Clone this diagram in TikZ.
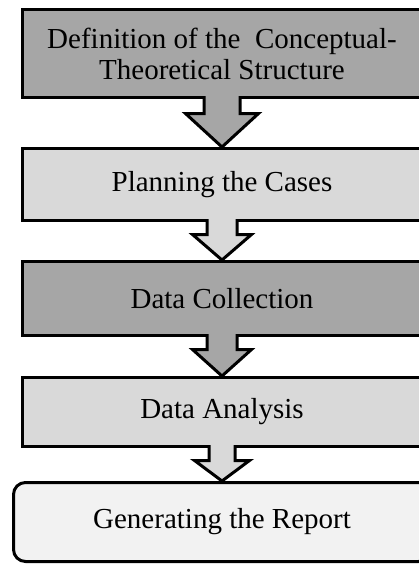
\documentclass[tikz,border=0pt]{standalone}
\usepackage{fontspec}
\setmainfont{Liberation Serif}
\usetikzlibrary{calc}

\definecolor{stagedark}{HTML}{A6A6A6}
\definecolor{stagelight}{HTML}{D9D9D9}
\definecolor{stagepale}{HTML}{F2F2F2}

% block arrow between two stages: from, to, fill, stem half width, head half width, head offset
\newcommand{\stagearrow}[6]{%
  \draw[stage arrow, fill=#3]
    ($(#1.south)+(-#4,3)$) -- ($(#1.south)+(-#4,-#6)$) -- ($(#1.south)+(-#5,-#6)$)
    -- (#2.north)
    -- ($(#1.south)+(#5,-#6)$) -- ($(#1.south)+(#4,-#6)$) -- ($(#1.south)+(#4,3)$);
}

\begin{document}
\begin{tikzpicture}[
            x=1pt, y=1pt,
            stage/.style={
                draw, line width=3pt, inner sep=0pt,
                align=center, font=\fontsize{29}{31}\selectfont,
                minimum width=399pt
            },
            stage arrow/.style={line width=3pt, line join=miter}
        ]
            \useasboundingbox (0,0) rectangle (419,-565);
            \clip (0,0) rectangle (419,-565);

            \node[stage, fill=stagedark, minimum height=88pt] (define) at (222,-53.5)
                {Definition of the~\ Conceptual-\\Theoretical Structure};
            \node[stage, fill=stagelight, minimum height=72pt] (plan) at (222,-184.5)
                {Planning the Cases};
            \node[stage, fill=stagedark, minimum height=74pt] (collect) at (222,-298.5)
                {Data Collection};
            \node[stage, fill=stagelight, minimum height=69pt] (analyse) at (222,-412)
                {Data Analysis};
            \node[stage, fill=stagepale, minimum height=79pt, minimum width=417pt,
                rounded corners=12pt] (report) at (222,-522)
                {Generating the Report};

            \stagearrow{define}{plan}{stagedark}{18}{36.5}{14.5}
            \stagearrow{plan}{collect}{stagelight}{15}{29.5}{12.5}
            \stagearrow{collect}{analyse}{stagedark}{15}{29.5}{12.5}
            \stagearrow{analyse}{report}{stagelight}{13}{27.5}{12.5}
        \end{tikzpicture}
\end{document}
